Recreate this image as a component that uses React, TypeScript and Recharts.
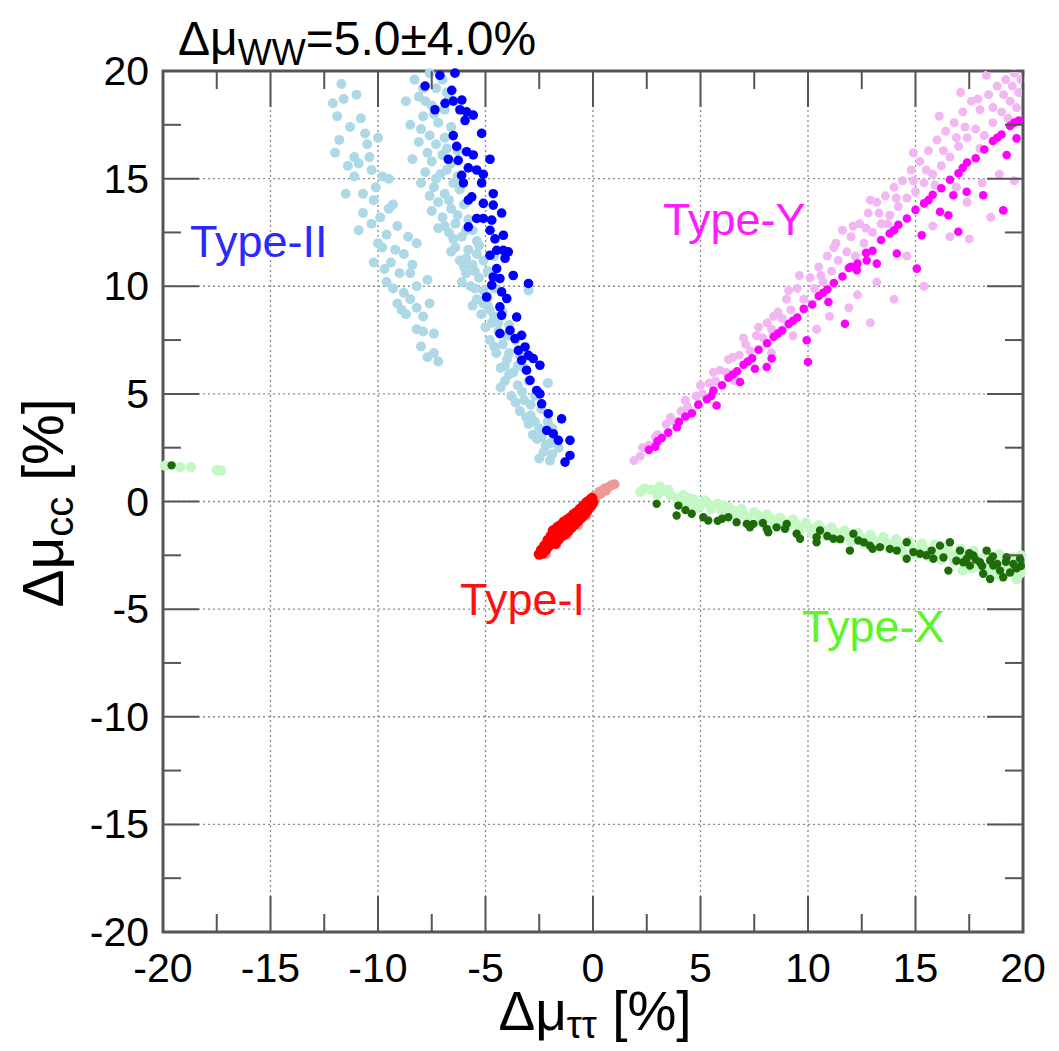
import React from 'react';
import {
  ScatterChart,
  Scatter,
  XAxis,
  YAxis,
  ReferenceLine,
  ReferenceArea,
} from 'recharts';

// tick values (every 2.5, labels only on multiples of 5)
const allTicks = [-20, -17.5, -15, -12.5, -10, -7.5, -5, -2.5, 0, 2.5, 5, 7.5, 10, 12.5, 15, 17.5, 20];
const gridTicks = [-15, -10, -5, 0, 5, 10, 15];

// Type-II, light (left cluster + main band)
const type2Light: [number, number][] = [
  [-11.7, 19.4], [-12.1, 18.5], [-11.6, 18.7], [-10.8, 17.8], [-11.3, 17.4], [-10.6, 17.1], [-11.8, 16.8],
  [-10.5, 16.6], [-11.1, 16.0], [-10.4, 16.0], [-11.1, 15.1], [-10.3, 15.4], [-9.8, 15.1], [-9.5, 15.0],
  [-11.5, 14.3], [-10.7, 14.3], [-10.1, 14.6], [-10.7, 13.4], [-9.9, 13.2], [-10.3, 12.9], [-9.1, 12.8],
  [-9.6, 12.4], [-8.6, 12.3], [-9.8, 11.8], [-10.2, 11.1], [-9.4, 11.1], [-8.8, 11.5], [-8.2, 12.0],
  [-9.0, 10.6], [-9.6, 10.2], [-8.8, 9.7], [-8.2, 10.0], [-7.7, 10.3], [-9.1, 9.2], [-8.7, 8.7],
  [-8.2, 9.0], [-7.9, 8.6], [-8.2, 8.0], [-7.4, 7.8], [-7.9, 7.9], [-7.4, 6.9], [-7.2, 6.5],
  [-8.9, 8.9], [-8.4, 11.0], [-9.3, 13.8], [-10.0, 16.9], [-9.7, 10.8],
  [-11.9, 17.9], [-11.4, 15.6], [-10.9, 15.7], [-10.2, 14.0], [-10.9, 12.6], [-9.5, 13.6], [-10.0, 12.0],
  [-9.2, 11.7], [-8.5, 10.6], [-9.3, 9.9], [-8.5, 9.4], [-7.6, 9.2], [-8.0, 7.2], [-7.7, 6.7],
  [-11.0, 18.9], [-12.0, 16.2],
  [-8.3, 19.6], [-8.1, 18.8], [-7.6, 19.9], [-7.3, 19.2], [-7.0, 19.6], [-6.8, 19.0], [-7.5, 18.4],
  [-7.9, 17.9], [-7.2, 17.6], [-6.9, 18.2], [-6.6, 17.4], [-7.6, 17.0], [-8.1, 16.7], [-7.3, 16.6],
  [-6.9, 16.9], [-7.0, 16.1], [-7.5, 15.8], [-6.6, 15.7], [-7.8, 15.3], [-7.1, 15.2], [-6.5, 14.8],
  [-7.4, 14.6], [-6.9, 14.3], [-6.2, 14.5], [-7.2, 13.9], [-6.6, 13.6], [-6.0, 13.8], [-7.0, 13.2],
  [-6.4, 12.9], [-5.8, 13.1], [-6.7, 12.5], [-6.1, 12.3], [-5.6, 12.6], [-6.4, 11.8], [-5.8, 11.7],
  [-5.3, 11.9], [-6.2, 11.2], [-5.6, 11.0], [-5.1, 11.2], [-5.9, 10.6], [-5.3, 10.4], [-4.9, 10.7],
  [-5.7, 10.0], [-5.1, 9.8], [-4.6, 9.9], [-5.4, 9.4], [-4.9, 9.1], [-5.2, 8.7], [-4.6, 8.6],
  [-4.2, 8.8], [-5.0, 8.1], [-4.4, 7.9], [-3.9, 8.2], [-4.8, 7.5], [-4.2, 7.3], [-3.6, 7.5],
  [-4.5, 6.9], [-4.0, 6.6], [-3.4, 6.8], [-4.3, 6.2], [-3.7, 6.0], [-3.2, 6.2], [-4.1, 5.6],
  [-3.5, 5.4], [-3.0, 5.6], [-3.8, 4.9], [-3.2, 4.7], [-2.7, 4.9], [-3.4, 4.2], [-2.9, 4.0],
  [-2.4, 4.3], [-3.0, 3.6], [-2.5, 3.4], [-2.1, 3.7], [-2.6, 2.9], [-2.2, 2.6], [-1.8, 3.0],
  [-2.3, 2.3], [-1.9, 2.2], [-1.6, 2.5], [-3.0, 9.8], [-2.1, 5.5], [-7.8, 18.6], [-6.3, 16.3],
  [-5.4, 12.1], [-4.6, 11.4], [-3.9, 6.9], [-2.8, 3.1],
  [-7.9, 19.2], [-7.4, 18.0], [-6.7, 18.7], [-8.0, 17.3], [-6.8, 16.4], [-7.7, 16.2], [-7.3, 15.0],
  [-6.8, 15.4], [-6.3, 15.1], [-7.6, 14.2], [-6.7, 14.0], [-6.3, 13.3], [-6.9, 12.8], [-5.9, 12.6],
  [-6.5, 12.2], [-5.9, 11.3], [-5.4, 11.5], [-6.0, 10.9], [-5.5, 10.7], [-5.5, 9.9], [-4.9, 9.5],
  [-5.1, 9.2], [-4.7, 8.3], [-4.8, 8.9], [-4.4, 8.3], [-4.6, 7.2], [-4.0, 7.7], [-4.1, 6.3],
  [-3.5, 6.3], [-3.9, 5.9], [-3.3, 5.1], [-3.6, 4.6], [-2.9, 4.5], [-3.1, 3.9], [-2.7, 3.7],
  [-2.4, 3.0], [-2.0, 2.7], [-2.5, 2.0], [-2.0, 1.9], [-1.9, 3.4], [-4.3, 5.3], [-5.6, 9.1],
  [-6.1, 10.2], [-6.6, 11.6], [-7.2, 12.7], [-7.5, 13.5], [-8.0, 14.8], [-8.4, 15.9], [-8.5, 17.5],
  [-8.7, 18.6],
];

// Type-II, dark
const type2Dark: [number, number][] = [
  [-7.12, 19.8], [-6.42, 19.9], [-7.81, 19.3], [-6.57, 19.1], [-6.5, 18.6], [-6.1, 18.65], [-6.88, 18.5],
  [-7.35, 18.2], [-6.19, 18.2], [-5.88, 18.1], [-5.57, 17.95], [-5.95, 17.7], [-5.18, 17.1], [-6.5, 17.0],
  [-6.34, 16.5], [-5.88, 16.25], [-5.57, 16.1], [-4.79, 15.9], [-6.73, 15.9], [-6.27, 15.85], [-5.8, 15.5],
  [-5.41, 15.4], [-5.1, 15.2], [-6.11, 15.15], [-6.03, 14.8], [-5.18, 14.8], [-5.64, 14.15], [-5.8, 14.0],
  [-4.64, 14.3], [-5.1, 13.85], [-4.64, 13.77], [-4.25, 13.4], [-5.41, 13.15], [-5.1, 13.15], [-4.71, 13.07],
  [-5.8, 12.76], [-4.79, 12.6], [-4.56, 12.2], [-4.17, 12.37], [-4.48, 11.67], [-4.17, 11.67], [-3.94, 11.6],
  [-4.79, 11.44], [-4.09, 11.3], [-4.48, 10.82], [-4.64, 10.43], [-4.33, 10.36], [-3.71, 10.5], [-3.0, 10.13],
  [-4.71, 10.05], [-4.95, 9.5], [-4.25, 9.74], [-4.01, 9.43], [-4.33, 9.04], [-4.25, 8.65], [-3.55, 8.57],
  [-4.33, 7.8], [-3.86, 7.95], [-3.63, 7.57], [-3.32, 7.72], [-3.16, 7.18], [-3.47, 7.02], [-3.0, 6.79],
  [-3.32, 6.56], [-2.78, 6.64], [-2.47, 6.33], [-3.09, 6.1], [-2.93, 5.63], [-2.62, 5.16], [-2.47, 5.0],
  [-2.39, 4.54], [-2.08, 4.08], [-1.46, 3.84], [-2.15, 3.3], [-1.85, 3.15], [-1.61, 2.84], [-1.07, 2.84],
  [-1.07, 2.14], [-1.3, 1.83],
];

// Type-Y, light
const typeYLight: [number, number][] = [
  [1.9, 1.9], [2.2, 2.1], [2.6, 2.6], [3.0, 3.1], [3.4, 3.6], [3.8, 3.7], [4.1, 4.2], [4.4, 4.4],
  [4.8, 4.9], [5.1, 5.0], [5.4, 5.5], [5.7, 5.6], [5.9, 6.1], [6.2, 6.0], [6.5, 6.7], [6.8, 6.8],
  [7.1, 7.3], [7.3, 7.0], [7.6, 7.7], [7.9, 7.6], [8.1, 8.3], [8.3, 8.0], [8.6, 8.8], [8.8, 8.5],
  [9.0, 9.4], [9.2, 8.9], [9.5, 9.9], [9.6, 10.5], [9.8, 9.4], [10.1, 10.4], [10.3, 9.9], [10.5, 10.9],
  [10.7, 10.2], [10.9, 11.4], [11.1, 10.7], [11.3, 12.0], [11.4, 11.2], [11.6, 12.6], [11.8, 11.6],
  [12.0, 12.3], [12.2, 11.4], [12.4, 12.9], [12.6, 12.0], [12.8, 13.4], [13.0, 12.5], [13.2, 13.9],
  [13.4, 12.9], [13.6, 14.2], [13.8, 13.3], [14.0, 14.6], [14.2, 13.7], [14.4, 14.9], [14.6, 14.1],
  [14.8, 15.4], [15.0, 14.4], [15.2, 15.8], [15.4, 14.8], [15.6, 16.3], [15.8, 15.2], [16.0, 16.8],
  [16.2, 15.6], [16.4, 17.2], [16.6, 16.0], [16.8, 17.6], [17.0, 16.5], [17.2, 18.1], [17.4, 16.9],
  [17.6, 18.6], [17.8, 17.3], [18.0, 18.2], [18.2, 17.0], [18.4, 18.9], [18.6, 17.6], [18.8, 19.3],
  [19.0, 18.1], [19.2, 19.6], [19.4, 18.6], [19.6, 19.9], [19.8, 19.0], [19.7, 18.3], [19.3, 17.8],
  [19.1, 13.5], [18.5, 13.2], [14.0, 9.4], [12.9, 8.3], [11.9, 9.0], [15.4, 10.0], [10.4, 8.0],
  [16.6, 12.3], [17.4, 13.9], [18.9, 15.2], [19.6, 14.9], [13.2, 10.2], [15.8, 12.8], [16.9, 14.6],
  [8.3, 6.9], [9.3, 7.7], [11.0, 8.6], [17.5, 12.2], [14.6, 11.4], [12.3, 9.6], [6.6, 5.6], [18.1, 14.8],
  [17.1, 19.0], [18.3, 19.8], [16.1, 17.9], [14.9, 16.2], [12.9, 14.0],
  [2.3, 2.5], [2.9, 3.0], [3.6, 3.9], [4.3, 4.7], [5.0, 5.4], [5.6, 6.0], [6.3, 6.6], [7.0, 7.6],
  [7.7, 8.1], [8.4, 8.6], [9.1, 9.8], [10.6, 10.5], [11.2, 11.8], [12.1, 12.8], [12.7, 12.7], [13.3, 13.4],
  [14.1, 14.1], [14.9, 14.9], [15.5, 15.4], [16.3, 16.3], [16.9, 16.9], [17.3, 17.4], [17.9, 18.7],
  [18.6, 18.3], [19.1, 18.9], [19.5, 19.3], [19.9, 19.6], [18.0, 16.4], [15.9, 14.7], [13.7, 12.9],
];

// Type-Y, dark
const typeYDark: [number, number][] = [
  [2.6, 2.4], [2.9, 2.55], [3.2, 2.95], [3.5, 3.2], [3.9, 3.45], [4.3, 3.95], [4.6, 4.1], [4.9, 4.5],
  [5.3, 4.75], [5.6, 5.15], [6.0, 5.4], [6.3, 5.75], [6.7, 6.05], [7.0, 6.35], [7.4, 6.65], [7.7, 7.05],
  [8.1, 7.35], [8.4, 7.65], [8.8, 7.95], [9.1, 8.25], [9.5, 8.55], [9.8, 8.95], [10.2, 9.15], [10.5, 9.55],
  [10.9, 9.85], [11.2, 10.15], [11.6, 10.45], [11.9, 10.85], [12.3, 11.05], [12.7, 11.55], [13.0, 11.65],
  [13.4, 12.15], [13.8, 12.45], [14.2, 12.85], [14.6, 13.15], [15.0, 13.55], [15.4, 13.85], [15.8, 14.25],
  [16.2, 14.55], [16.6, 14.95], [17.0, 15.25], [17.4, 15.75], [17.8, 15.95], [18.2, 16.35], [18.6, 16.75],
  [19.0, 17.05], [19.4, 17.45], [19.8, 17.7],
  [3.0, 2.8], [4.0, 3.7], [5.5, 4.9], [6.5, 5.9], [7.2, 6.5], [8.6, 7.8], [9.3, 8.4], [10.7, 9.7],
  [12.0, 10.9], [14.0, 12.6], [15.6, 14.0], [17.2, 15.5], [18.8, 16.9], [19.6, 17.6],
  [10.0, 6.48], [9.94, 7.49], [11.72, 8.26], [15.06, 10.82], [15.29, 12.37], [16.99, 12.53], [19.08, 13.53],
  [19.7, 16.87], [19.24, 16.1], [18.15, 14.23], [17.38, 14.39], [16.53, 13.3], [16.14, 13.46], [16.76, 14.23],
  [14.13, 11.52], [13.2, 11.05], [12.73, 11.2], [12.27, 10.75], [10.95, 9.27], [8.31, 6.64], [8.08, 6.25],
  [7.53, 6.17], [5.75, 4.46], [6.84, 5.55],
];

// Type-X, light
const typeXLight: [number, number][] = [
  [2.2, 0.45], [2.4, 0.6], [2.7, 0.55], [3.1, 0.7], [3.3, 0.5], [3.6, 0.3], [3.9, 0.15], [4.2, 0.3],
  [4.4, -0.05], [4.7, 0.1], [5.0, -0.2], [5.2, 0.05], [5.5, -0.35], [5.8, -0.1], [6.0, -0.45], [6.3, -0.25],
  [6.6, -0.6], [6.9, -0.35], [7.2, -0.75], [7.5, -0.5], [7.8, -0.9], [8.1, -0.6], [8.4, -1.05], [8.7, -0.75],
  [9.0, -1.2], [9.3, -0.85], [9.6, -1.35], [9.9, -1.0], [10.2, -1.45], [10.5, -1.1], [10.8, -1.6], [11.1, -1.2],
  [11.4, -1.7], [11.7, -1.35], [12.0, -1.85], [12.3, -1.45], [12.6, -1.95], [12.9, -1.55], [13.2, -2.1],
  [13.5, -1.65], [13.8, -2.2], [14.1, -1.75], [14.4, -2.35], [14.7, -1.85], [15.0, -2.45], [15.3, -1.95],
  [15.6, -2.55], [15.9, -2.0], [16.2, -2.7], [16.5, -2.1], [16.8, -2.8], [17.1, -2.2], [17.4, -2.95],
  [17.7, -2.3], [18.0, -3.05], [18.3, -2.4], [18.6, -3.2], [18.9, -2.45], [19.2, -3.3], [19.5, -2.6],
  [19.8, -3.4], [19.9, -2.5], [19.7, -3.6], [19.0, -3.5], [18.2, -3.3], [17.2, -3.2], [16.4, -2.4],
  [15.2, -2.2], [14.0, -2.0], [12.8, -1.75], [11.6, -1.5], [10.4, -1.3], [9.2, -1.05], [8.0, -0.8],
  [6.8, -0.5], [5.6, -0.2], [4.5, 0.15], [19.4, -3.0], [18.7, -2.8], [17.9, -2.65], [16.9, -2.5], [15.7, -2.35],
  [3.0, 0.3], [3.5, 0.55], [4.0, 0.0], [4.8, -0.3], [5.3, -0.05], [6.1, -0.2], [6.5, -0.4], [7.0, -0.6],
  [7.7, -0.65], [8.3, -0.8], [8.9, -1.0], [9.5, -1.1], [10.1, -1.25], [10.7, -1.35], [11.3, -1.45], [11.9, -1.6],
  [12.5, -1.7], [13.1, -1.85], [13.7, -1.95], [14.3, -2.1], [14.9, -2.2], [15.5, -2.3], [16.1, -2.4],
  [16.7, -2.5], [17.3, -2.6], [17.9, -2.8], [18.5, -2.95], [19.1, -3.05], [19.6, -3.15], [19.9, -3.3],
  [18.8, -3.4], [17.6, -3.1],
  [-19.9, 1.67], [-19.2, 1.6], [-18.7, 1.6], [-17.5, 1.45], [-17.3, 1.44],
];

// Type-X, dark
const typeXDark: [number, number][] = [
  [2.96, -0.11], [3.97, -0.19], [3.89, -0.65], [4.59, -0.57], [5.13, -0.73], [5.36, -0.88], [6.29, -0.73],
  [6.68, -0.96], [7.15, -1.04], [7.46, -1.04], [8.08, -1.27], [8.15, -1.43], [8.54, -1.2], [8.93, -1.27],
  [9.01, -1.04], [9.47, -1.5], [9.63, -1.73], [10.4, -1.66], [10.56, -1.35], [11.18, -1.73], [10.4, -1.89],
  [12.11, -1.5], [12.34, -1.81], [11.95, -2.28], [12.88, -2.05], [13.35, -2.12], [13.81, -2.2], [14.13, -2.28],
  [14.59, -1.89], [14.59, -2.66], [15.21, -2.43], [15.75, -2.28], [15.83, -2.66], [16.14, -2.05], [16.6, -1.89],
  [16.53, -3.21], [17.07, -2.28], [17.38, -2.66], [17.69, -2.51], [18.0, -2.82], [18.31, -2.28], [18.47, -2.74],
  [18.62, -2.98], [18.15, -3.36], [18.47, -3.6], [19.08, -3.52], [19.24, -2.59], [19.55, -2.9], [19.86, -2.66],
  [18.93, -3.21], [17.53, -2.98], [17.22, -2.82],
  [4.3, -0.4], [5.8, -0.9], [6.0, -0.8], [7.3, -1.2], [7.9, -1.0], [10.9, -1.6], [11.5, -1.75], [12.6, -1.9],
  [13.0, -2.2], [14.9, -2.35], [15.5, -2.5], [16.3, -2.6], [16.9, -2.75], [17.8, -2.7], [18.1, -3.0],
  [18.8, -2.9], [19.4, -3.3], [19.7, -3.1], [19.2, -2.8], [17.5, -2.4], [18.6, -2.55], [19.9, -3.0],
  [-19.6, 1.68],
];

// Type-I, light
const type1Light: [number, number][] = [
  [0.05, 0.25], [0.2, 0.3], [0.3, 0.45], [0.45, 0.5], [0.55, 0.6], [0.7, 0.65], [0.85, 0.75], [1.0, 0.8],
  [0.1, 0.1], [0.35, 0.35], [0.6, 0.5], [-2.2, -2.45], [-1.7, -2.0], [-1.2, -1.55], [-0.7, -1.1], [-0.3, -0.65],
];

// Type-I, dark
const type1Dark: [number, number][] = [
  [-2.5, -2.45], [-2.4, -2.25], [-2.35, -2.4], [-2.25, -2.05], [-2.2, -2.25], [-2.1, -1.8], [-2.1, -2.1],
  [-2.0, -1.95], [-1.95, -1.6], [-1.9, -1.85], [-1.85, -1.35], [-1.8, -1.7], [-1.75, -1.95], [-1.7, -1.5],
  [-1.65, -1.2], [-1.6, -1.75], [-1.55, -1.4], [-1.5, -1.1], [-1.45, -1.6], [-1.4, -1.3], [-1.35, -0.95],
  [-1.3, -1.5], [-1.25, -1.15], [-1.2, -0.85], [-1.15, -1.35], [-1.1, -1.0], [-1.05, -0.75], [-1.0, -1.2],
  [-0.95, -0.9], [-0.9, -0.6], [-0.85, -1.05], [-0.8, -0.75], [-0.75, -0.5], [-0.7, -0.9], [-0.65, -0.6],
  [-0.6, -0.35], [-0.55, -0.75], [-0.5, -0.45], [-0.45, -0.2], [-0.4, -0.6], [-0.35, -0.3], [-0.3, -0.05],
  [-0.25, -0.4], [-0.2, -0.15], [-0.15, 0.05], [-0.1, -0.2], [-0.05, 0.15], [0.0, -0.05],
];

const W = 1059;
const H = 1051;
const PL = 163;
const PT = 71;
const PW = 860;
const PH = 861;
const FONT = '"Liberation Sans", Arial, Helvetica, sans-serif';
const TICK_COLOR = '#555';

const pts = (a: [number, number][]) => a.map(([x, y]) => ({ x, y }));

const dot = (r: number, fill: string) => (p: any) => (
  <circle cx={p.cx} cy={p.cy} r={r} fill={fill} />
);

const isMajor = (v: number) => Math.abs(v % 5) < 1e-6;

function XTick(props: any) {
  const { x, y, payload } = props;
  const v = payload.value;
  const len = isMajor(v) ? 36 : 18;
  return (
    <g>
      <line x1={x} x2={x} y1={y} y2={y - len} stroke={TICK_COLOR} strokeWidth={2} />
      <line x1={x} x2={x} y1={y - PH} y2={y - PH + len} stroke={TICK_COLOR} strokeWidth={2} />
      {isMajor(v) && (
        <text x={x} y={y + 36} textAnchor="middle" dominantBaseline="central" fontSize={41} fontFamily={FONT} fill="#000">
          {v}
        </text>
      )}
    </g>
  );
}

function YTick(props: any) {
  const { x, y, payload } = props;
  const v = payload.value;
  const len = isMajor(v) ? 36 : 18;
  return (
    <g>
      <line x1={x} x2={x + len} y1={y} y2={y} stroke={TICK_COLOR} strokeWidth={2} />
      <line x1={x + PW} x2={x + PW - len} y1={y} y2={y} stroke={TICK_COLOR} strokeWidth={2} />
      {isMajor(v) && (
        <text x={x - 14} y={y} textAnchor="end" dominantBaseline="central" fontSize={41} fontFamily={FONT} fill="#000">
          {v}
        </text>
      )}
    </g>
  );
}

const label = (left: number, top: number, color: string, text: string) => (
  <div style={{ position: 'absolute', left, top, color, fontSize: 45, lineHeight: 1, fontFamily: FONT, whiteSpace: 'nowrap' }}>
    {text}
  </div>
);

export default function App() {
  return (
    <div style={{ position: 'absolute', left: 0, top: 0, width: W, height: H, background: '#fff', fontFamily: FONT, overflow: 'hidden' }}>
      <ScatterChart width={W} height={H} margin={{ top: PT, right: W - PL - PW, bottom: 0, left: 0 }}>
        <XAxis
          type="number"
          dataKey="x"
          domain={[-20, 20]}
          ticks={allTicks}
          interval={0}
          height={H - PT - PH}
          axisLine={false}
          tickLine={false}
          tickSize={0}
          tickMargin={0}
          tick={(p: any) => <XTick {...p} />}
        />
        <YAxis
          type="number"
          dataKey="y"
          domain={[-20, 20]}
          ticks={allTicks}
          interval={0}
          width={PL}
          axisLine={false}
          tickLine={false}
          tickSize={0}
          tickMargin={0}
          tick={(p: any) => <YTick {...p} />}
        />
        {gridTicks.map((v) => (
          <ReferenceLine key={'gx' + v} x={v} stroke="#8a8a8a" strokeWidth={1.3} strokeDasharray="2 3" />
        ))}
        {gridTicks.map((v) => (
          <ReferenceLine key={'gy' + v} y={v} stroke="#8a8a8a" strokeWidth={1.3} strokeDasharray="2 3" />
        ))}
        <Scatter data={pts(type2Light)} shape={dot(5, '#add8e6')} isAnimationActive={false} />
        <Scatter data={pts(type2Dark)} shape={dot(4.8, '#0000ff')} isAnimationActive={false} />
        <Scatter data={pts(typeYLight)} shape={dot(4.5, '#f2b6f2')} isAnimationActive={false} />
        <Scatter data={pts(typeYDark)} shape={dot(4.3, '#ff00ff')} isAnimationActive={false} />
        <Scatter data={pts(typeXLight)} shape={dot(5.2, '#c4f7c4')} isAnimationActive={false} />
        <Scatter data={pts(typeXDark)} shape={dot(4.2, '#1e6b0a')} isAnimationActive={false} />
        <Scatter data={pts(type1Light)} shape={dot(5, '#ec9a94')} isAnimationActive={false} />
        <Scatter data={pts(type1Dark)} shape={dot(5.5, '#ff0000')} isAnimationActive={false} />
        <ReferenceArea x1={-20} x2={20} y1={-20} y2={20} fill="none" fillOpacity={0} stroke="#555" strokeWidth={3} />
      </ScatterChart>

      <div style={{ position: 'absolute', left: 178, top: 15, fontSize: 48, lineHeight: 1, whiteSpace: 'nowrap', color: '#000' }}>
        Δμ<span style={{ fontSize: 36, position: 'relative', top: 10 }}>WW</span>=5.0±4.0%
      </div>
      <div
        style={{
          position: 'absolute', left: 595, top: 984, transform: 'translateX(-50%)',
          fontSize: 55, lineHeight: 1, whiteSpace: 'nowrap', color: '#000',
        }}
      >
        Δμ<span style={{ fontSize: 38, position: 'relative', top: 8, lineHeight: 1 }}>ττ</span> [%]
      </div>
      <div
        style={{
          position: 'absolute', left: 43, top: 503, transform: 'translate(-50%, -50%) rotate(-90deg)',
          fontSize: 57, lineHeight: 1, whiteSpace: 'nowrap', color: '#000',
        }}
      >
        Δμ<span style={{ fontSize: 40, position: 'relative', top: 10 }}>cc</span> [%]
      </div>

      {label(190, 219, '#2a2aff', 'Type-II')}
      {label(663, 197, '#ff1aff', 'Type-Y')}
      {label(460, 577, '#ff1010', 'Type-I')}
      {label(802, 604, '#5cf52a', 'Type-X')}
    </div>
  );
}
